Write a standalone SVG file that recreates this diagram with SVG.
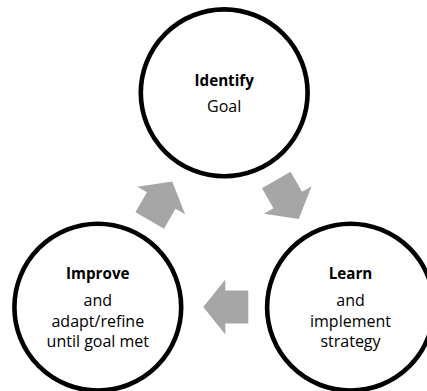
<svg xmlns="http://www.w3.org/2000/svg" width="427" height="391" viewBox="0 0 427 391">
<style>
.node circle{fill:#fff;stroke:#000;stroke-width:4.6}
.t{font-family:"Open Sans","Noto Sans",sans-serif;font-size:16px;fill:#000;text-anchor:middle}
.b{font-weight:bold;font-size:15.2px}
.arr{fill:#a6a6a6}
</style>
<defs>
<path id="arrow" d="M22.5,0 L0.5,-27.5 L0.5,-16.5 L-22.5,-16.5 L-22.5,16.5 L0.5,16.5 L0.5,27.5 Z"/>
</defs>
<rect width="427" height="391" fill="#fff"/>
<g id="connectors">
<use href="#arrow" class="arr" transform="translate(287.5,199.5) rotate(60)"/>
<use href="#arrow" class="arr" transform="translate(225.8,307) rotate(180)"/>
<use href="#arrow" class="arr" transform="translate(161,201) rotate(-60)"/>
</g>
<g id="identify" class="node">
<circle cx="224.2" cy="92.8" r="83.4"/>
<text class="t b" x="224.2" y="85.5">Identify</text>
<text class="t" x="224.2" y="112">Goal</text>
</g>
<g id="learn" class="node">
<circle cx="350.5" cy="307.2" r="83.4"/>
<text class="t b" x="350.5" y="279.3">Learn</text>
<text class="t" x="350.5" y="306">and</text>
<text class="t" x="350.5" y="326.5">implement</text>
<text class="t" x="350.5" y="346.5">strategy</text>
</g>
<g id="improve" class="node">
<circle cx="97.8" cy="307.2" r="83.4"/>
<text class="t b" x="97.8" y="279.3">Improve</text>
<text class="t" x="97.8" y="306">and</text>
<text class="t" x="97.8" y="326.5">adapt/refine</text>
<text class="t" x="97.8" y="346.5">until goal met</text>
</g>
</svg>
